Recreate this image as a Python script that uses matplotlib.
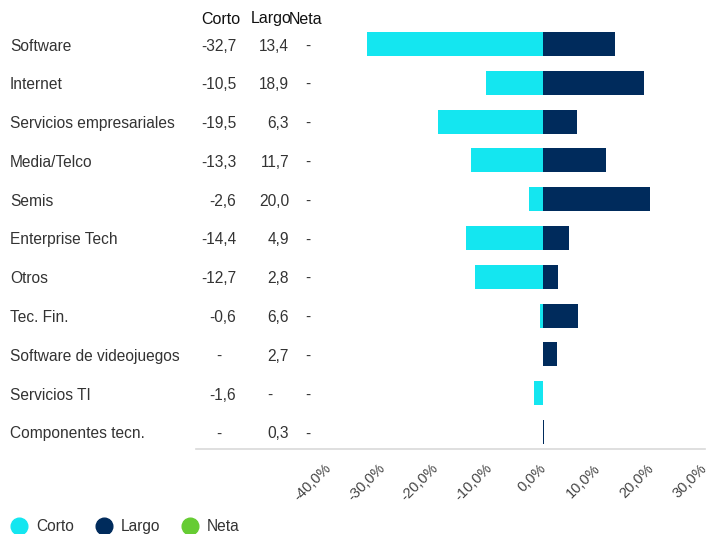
import matplotlib.pyplot as plt
import matplotlib.transforms as mtransforms
from matplotlib.lines import Line2D

plt.rcParams['font.family'] = ['Liberation Sans', 'DejaVu Sans']

sectors = ['Software', 'Internet', 'Servicios empresariales', 'Media/Telco', 'Semis',
           'Enterprise Tech', 'Otros', 'Tec. Fin.', 'Software de videojuegos',
           'Servicios TI', 'Componentes tecn.']
corto = [-32.7, -10.5, -19.5, -13.3, -2.6, -14.4, -12.7, -0.6, None, -1.6, None]
largo = [13.4, 18.9, 6.3, 11.7, 20.0, 4.9, 2.8, 6.6, 2.7, None, 0.3]
neta = [None] * len(sectors)
xticks = [-40, -30, -20, -10, 0, 10, 20, 30]

c_corto = '#14E6F0'
c_largo = '#002B5C'
c_neta = '#66CC33'
txt = '#333333'

W, H = 709, 534
fig = plt.figure(figsize=(W / 100, H / 100), dpi=100)
# axes placed in pixel terms: x from -40 (328px) to 30 (704px)
ax = fig.add_axes([328 / W, (H - 449) / H, (704 - 328) / W, (449 - 25) / H])

ys = list(range(len(sectors)))
ax.barh(ys, [v if v is not None else 0 for v in corto], height=0.62, color=c_corto)
ax.barh(ys, [v if v is not None else 0 for v in largo], height=0.62, color=c_largo)

ax.set_xlim(-40, 30)
ax.set_ylim(10.44, -0.49)
ax.set_yticks([])
ax.set_xticks(xticks)
ax.set_xticklabels([f'{t:.1f}%'.replace('.', ',') for t in xticks], rotation=45,
                   ha='right', va='top', rotation_mode='anchor', fontsize=10.5, color='#444444')
ax.tick_params(axis='x', length=0, pad=9)
shift = mtransforms.ScaledTranslation(-4 / 100, 0, fig.dpi_scale_trans)
for lab in ax.get_xticklabels():
    lab.set_transform(lab.get_transform() + shift)
for s in ax.spines.values():
    s.set_visible(False)

# bottom rule across table and chart
fig.add_artist(Line2D([196 / W, 705 / W], [(H - 449) / H] * 2, color='#d9d9d9', lw=1.2))

# table columns
tr = mtransforms.blended_transform_factory(fig.transFigure, ax.transData) + \
    mtransforms.ScaledTranslation(0, -2 / 100, fig.dpi_scale_trans)
fs = 11.2


def fmt(v):
    return f'{v:.1f}'.replace('.', ',')


for i, name in enumerate(sectors):
    ax.text(10 / W, i, name, transform=tr, ha='left', va='center', fontsize=fs, color=txt)
    if corto[i] is None:
        ax.text(219 / W, i, '-', transform=tr, ha='center', va='center', fontsize=fs, color=txt)
    else:
        ax.text(236 / W, i, fmt(corto[i]), transform=tr, ha='right', va='center', fontsize=fs, color=txt)
    if largo[i] is None:
        ax.text(270 / W, i, '-', transform=tr, ha='center', va='center', fontsize=fs, color=txt)
    else:
        ax.text(289 / W, i, fmt(largo[i]), transform=tr, ha='right', va='center', fontsize=fs, color=txt)
    ax.text(308 / W, i, '-' if neta[i] is None else fmt(neta[i]), transform=tr,
            ha='center', va='center', fontsize=fs, color=txt)

fig.text(201 / W, 1 - 19 / H, 'Corto', ha='left', va='center', fontsize=11.5, color='#111111')
fig.text(251 / W, 1 - 19 / H, 'Largo', ha='left', va='center', fontsize=11.5, color='#111111')
fig.text(289 / W, 1 - 19 / H, 'Neta', ha='left', va='center', fontsize=11.5, color='#111111')

handles = [Line2D([], [], marker='o', ls='', ms=12, color=c) for c in (c_corto, c_largo, c_neta)]
fig.legend(handles, ['Corto', 'Largo', 'Neta'], loc='lower left', bbox_to_anchor=(0.003, -0.018),
           ncol=3, frameon=False, fontsize=fs, handletextpad=0.6, columnspacing=1.4,
           handlelength=1.0, borderaxespad=0.2, labelcolor=txt)

fig.savefig('out.png', dpi=100)
